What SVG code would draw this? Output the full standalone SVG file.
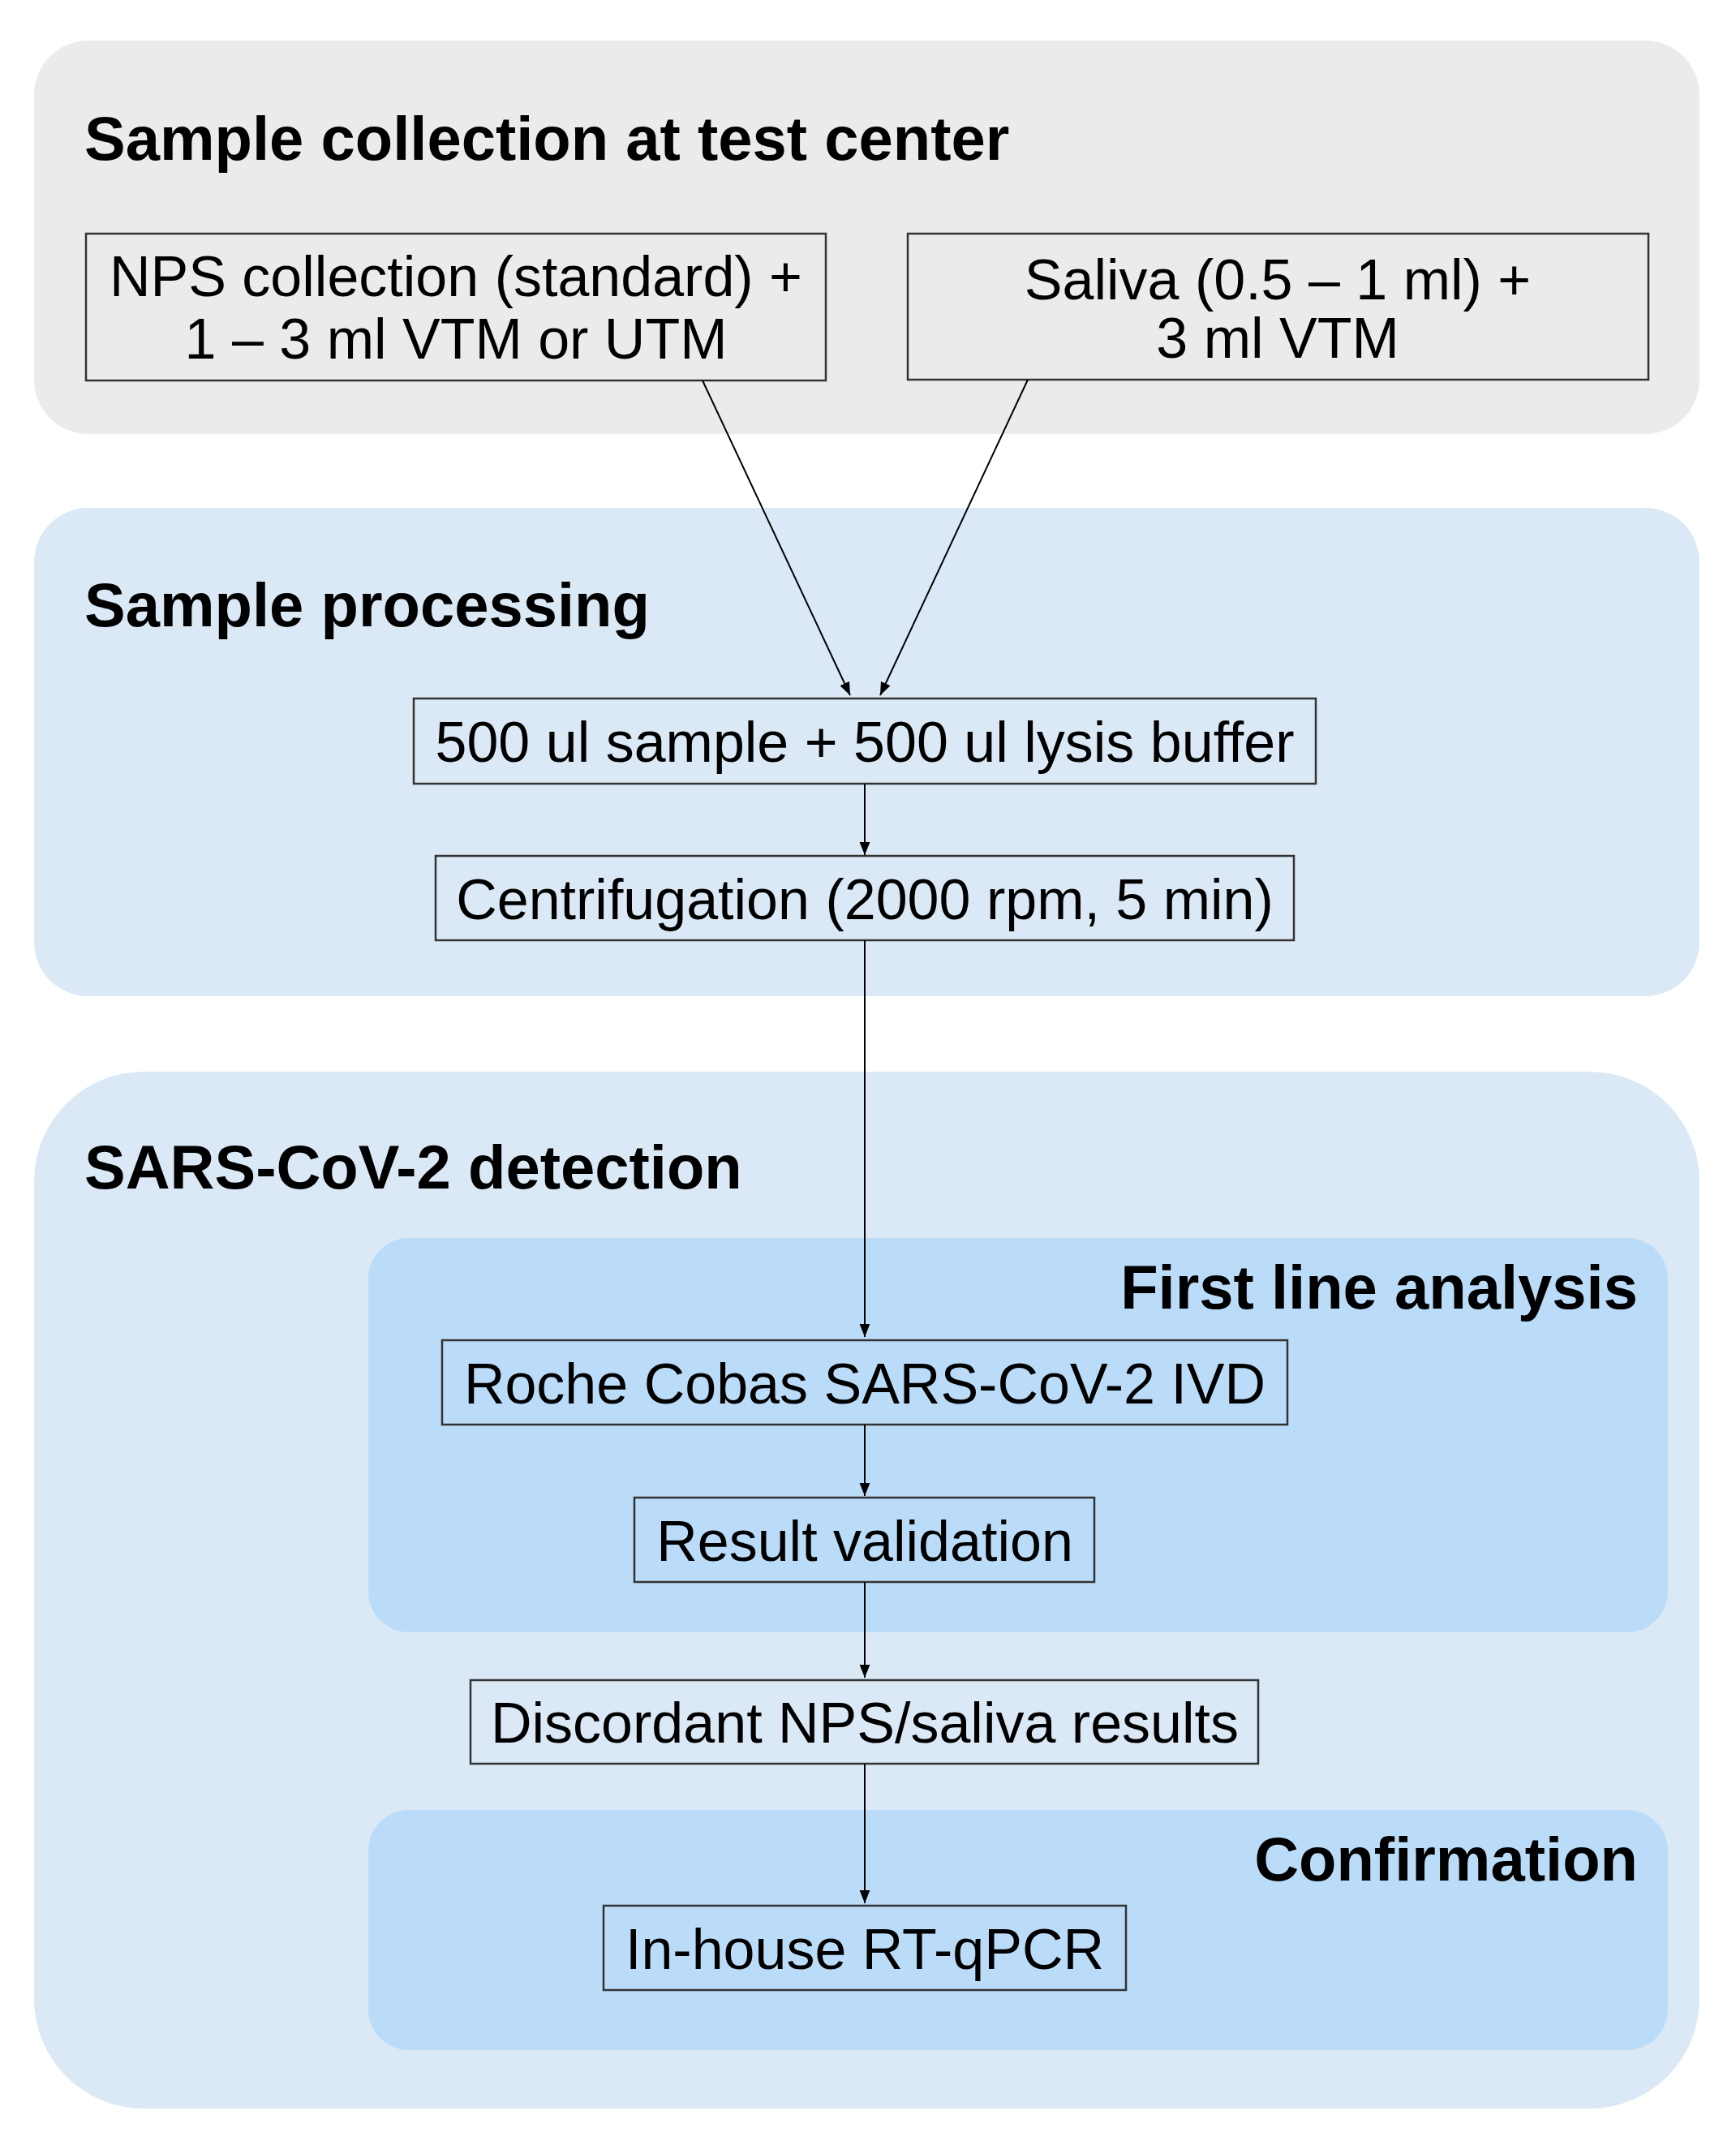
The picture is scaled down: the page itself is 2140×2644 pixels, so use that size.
<svg xmlns="http://www.w3.org/2000/svg" width="2140" height="2644" viewBox="0 0 2140 2644">
<defs>
<marker id="a" viewBox="0 0 10 10" refX="10" refY="5" markerWidth="16" markerHeight="16" markerUnits="userSpaceOnUse" orient="auto"><path d="M0,1 L10,5 L0,9 z" fill="#000"/></marker>
</defs>
<style>
.t{font-family:"Liberation Sans",Arial,sans-serif;font-weight:bold;font-size:76px;fill:#000}
.n{font-family:"Liberation Sans",Arial,sans-serif;font-size:70px;fill:#000;text-anchor:middle}
.b{fill:none;stroke:#333;stroke-width:2.5}
.c{stroke:#000;stroke-width:2;fill:none;marker-end:url(#a)}
</style>
<rect width="2140" height="2644" fill="#fff"/>
<g id="panel1"><rect x="42" y="50" width="2053" height="485" rx="67" fill="#ebebeb"/><text class="t" x="104" y="197">Sample collection at test center</text></g>
<g id="panel2"><rect x="42" y="626" width="2053" height="602" rx="67" fill="#dbe9f6"/><text class="t" x="104" y="772">Sample processing</text></g>
<g id="panel3"><rect x="42" y="1321" width="2053" height="1278" rx="135" fill="#dbe9f6"/><text class="t" x="104" y="1465">SARS-CoV-2 detection</text></g>
<g id="first"><rect x="454" y="1526" width="1602" height="486" rx="50" fill="#bbdcf8"/><text class="t" x="2019" y="1613" text-anchor="end">First line analysis</text></g>
<g id="confirm"><rect x="454" y="2231" width="1602" height="296" rx="50" fill="#bbdcf8"/><text class="t" x="2019" y="2318" text-anchor="end">Confirmation</text></g>
<g id="nps"><rect class="b" x="106" y="288" width="912" height="181"/><text class="n" x="562" y="365">NPS collection (standard) +</text><text class="n" x="562" y="442">1 – 3 ml VTM or UTM</text></g>
<g id="saliva"><rect class="b" x="1119" y="288" width="913" height="180"/><text class="n" x="1575" y="369">Saliva (0.5 – 1 ml) +</text><text class="n" x="1575" y="441">3 ml VTM</text></g>
<g id="lysis"><rect class="b" x="510" y="861" width="1112" height="105"/><text class="n" x="1066" y="939">500 ul sample + 500 ul lysis buffer</text></g>
<g id="centri"><rect class="b" x="537" y="1055" width="1058" height="104"/><text class="n" x="1066" y="1133">Centrifugation (2000 rpm, 5 min)</text></g>
<g id="roche"><rect class="b" x="545" y="1652" width="1042" height="104"/><text class="n" x="1066" y="1730">Roche Cobas SARS-CoV-2 IVD</text></g>
<g id="valid"><rect class="b" x="782" y="1846" width="567" height="104"/><text class="n" x="1066" y="1924">Result validation</text></g>
<g id="disc"><rect class="b" x="580" y="2071" width="971" height="103"/><text class="n" x="1066" y="2148">Discordant NPS/saliva results</text></g>
<g id="inhouse"><rect class="b" x="744" y="2349" width="644" height="104"/><text class="n" x="1066" y="2427">In-house RT-qPCR</text></g>
<g id="connectors">
<line class="c" x1="866" y1="469" x2="1048" y2="857"/>
<line class="c" x1="1267" y1="468" x2="1085" y2="857"/>
<line class="c" x1="1066" y1="966" x2="1066" y2="1054"/>
<line class="c" x1="1066" y1="1159" x2="1066" y2="1648"/>
<line class="c" x1="1066" y1="1756" x2="1066" y2="1844"/>
<line class="c" x1="1066" y1="1950" x2="1066" y2="2068"/>
<line class="c" x1="1066" y1="2174" x2="1066" y2="2346"/>
</g>
</svg>
